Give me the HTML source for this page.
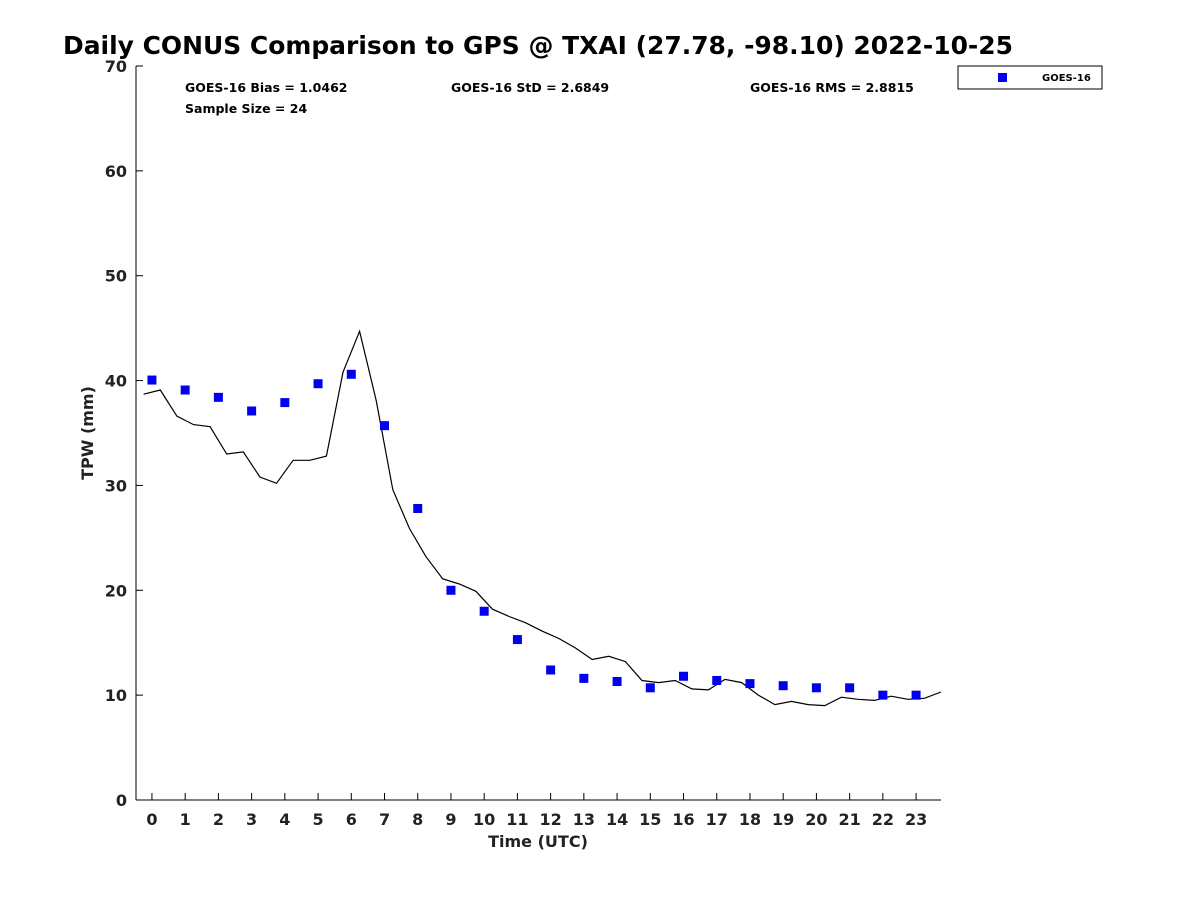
<!DOCTYPE html>
<html><head><meta charset="utf-8"><style>
body{margin:0;background:#fff;}
svg{display:block;font-family:"DejaVu Sans","Liberation Sans",sans-serif;}
</style></head><body>
<svg id="chart" width="1200" height="900" viewBox="0 0 1200 900">
<rect width="1200" height="900" fill="#fff"/>
<text x="63" y="54" font-size="25" font-weight="bold" fill="#000" textLength="950" lengthAdjust="spacingAndGlyphs">Daily CONUS Comparison to GPS @ TXAI (27.78, -98.10) 2022-10-25</text>
<g id="axes"></g>
<g id="marks"></g>
<text x="185" y="92" font-size="12.5" font-weight="bold">GOES-16 Bias = 1.0462</text>
<text x="451" y="92" font-size="12.5" font-weight="bold">GOES-16 StD = 2.6849</text>
<text x="750" y="92" font-size="12.5" font-weight="bold">GOES-16 RMS = 2.8815</text>
<text x="185" y="113" font-size="12.5" font-weight="bold">Sample Size = 24</text>
<g>
<rect x="958" y="66" width="144" height="23" fill="#fff" stroke="#000" stroke-width="1"/>
<rect x="998" y="73" width="9" height="9" fill="#0000ee"/>
<text x="1042" y="81" font-size="10" font-weight="bold">GOES-16</text>
</g>
<text x="538" y="847" font-size="16" font-weight="bold" text-anchor="middle" fill="#222">Time (UTC)</text>
<text transform="translate(93,433) rotate(-90)" font-size="16" font-weight="bold" text-anchor="middle" fill="#222">TPW (mm)</text>
</svg>
<script>
const gpsTimes=[-0.25,0.25,0.75,1.25,1.75,2.25,2.75,3.25,3.75,4.25,4.75,5.25,5.75,6.25,6.75,7.25,7.75,8.25,8.75,9.25,9.75,10.25,10.75,11.25,11.75,12.25,12.75,13.25,13.75,14.25,14.75,15.25,15.75,16.25,16.75,17.25,17.75,18.25,18.75,19.25,19.75,20.25,20.75,21.25,21.75,22.25,22.75,23.25,23.75];
const gpsValues=[38.7,39.1,36.6,35.8,35.6,33.0,33.2,30.8,30.2,32.4,32.4,32.8,40.8,44.7,38.1,29.6,25.9,23.2,21.1,20.6,19.9,18.2,17.5,16.9,16.1,15.4,14.5,13.4,13.7,13.2,11.4,11.2,11.4,10.6,10.5,11.5,11.2,10.0,9.1,9.4,9.1,9.0,9.8,9.6,9.5,9.9,9.6,9.7,10.3];
const goesHours=[0,1,2,3,4,5,6,7,8,9,10,11,12,13,14,15,16,17,18,19,20,21,22,23];
const goesValues=[40.05,39.1,38.4,37.1,37.9,39.7,40.6,35.7,27.8,20.0,18.0,15.3,12.4,11.6,11.3,10.7,11.8,11.4,11.1,10.9,10.7,10.7,10.0,10.0];
const xTicks=[0,1,2,3,4,5,6,7,8,9,10,11,12,13,14,15,16,17,18,19,20,21,22,23];
const yTicks=[0,10,20,30,40,50,60,70];
const L=136,R=941,T=66,B=800,xMin=-0.48,xMax=23.75,yMin=0,yMax=70;
const X=v=>L+(v-xMin)/(xMax-xMin)*(R-L);
const Y=v=>B-(v-yMin)/(yMax-yMin)*(B-T);
const NS='http://www.w3.org/2000/svg';
function mk(t,a,p){const e=document.createElementNS(NS,t);for(const k in a)e.setAttribute(k,a[k]);p.appendChild(e);return e;}
const ax=document.getElementById('axes'),mg=document.getElementById('marks');
let e=mk('line',{x1:L,y1:B,x2:R,y2:B,stroke:'#000'},ax);


e=mk('line',{x1:L,y1:T,x2:L,y2:B,stroke:'#000'},ax);


xTicks.forEach(v=>{
 mk('line',{x1:X(v),y1:B,x2:X(v),y2:B-7,stroke:'#000'},ax);
 const t=mk('text',{x:X(v),y:B+25,'font-size':16,'font-weight':'bold','text-anchor':'middle',fill:'#222'},ax);
 t.textContent=v;
 
 
});
yTicks.forEach(v=>{
 mk('line',{x1:L,y1:Y(v),x2:L+7,y2:Y(v),stroke:'#000'},ax);
 const t=mk('text',{x:L-9,y:Y(v)+6,'font-size':16,'font-weight':'bold','text-anchor':'end',fill:'#222'},ax);
 t.textContent=v;
 
 
});
const pts=gpsTimes.map((t,i)=>X(t).toFixed(1)+','+Y(gpsValues[i]).toFixed(1)).join(' ');
const pl=mk('polyline',{points:pts,fill:'none',stroke:'#000','stroke-width':1.2},mg);


goesHours.forEach((h,i)=>{
 const r=mk('rect',{x:X(h)-4.5,y:Y(goesValues[i])-4.5,width:9,height:9,fill:'#0000ee'},mg);
 
 
});
</script>
</body></html>
